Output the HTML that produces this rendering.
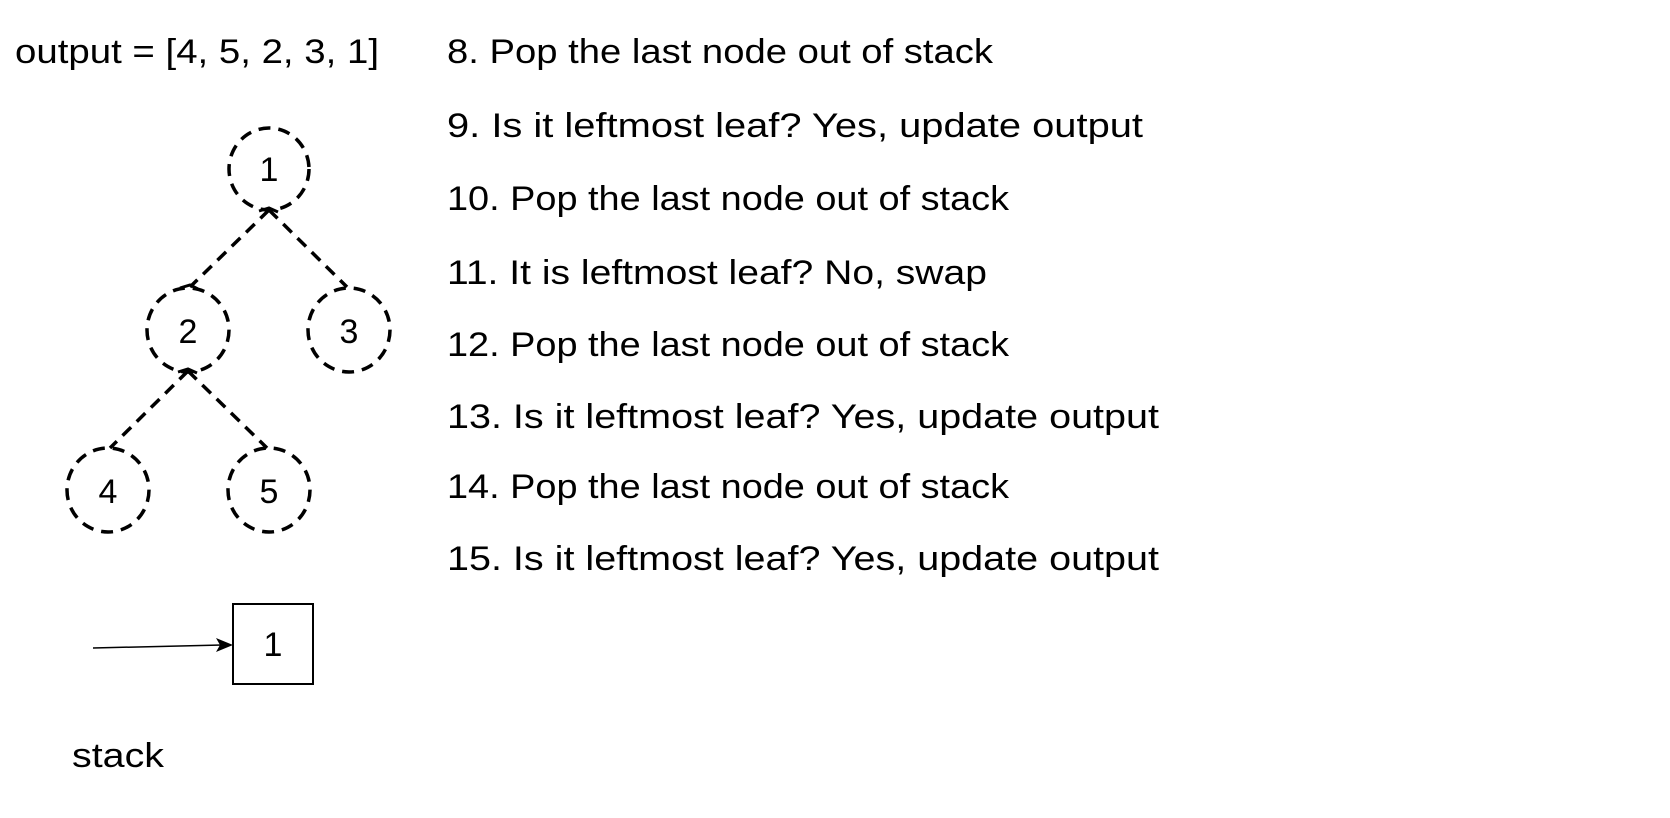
<!DOCTYPE html>
<html><head><meta charset="utf-8"><style>
html,body{margin:0;padding:0;background:#fff;}
svg{display:block;}
text{font-family:"Liberation Sans",sans-serif;font-size:34px;fill:#000;}
</style></head><body>
<svg width="1670" height="818" viewBox="0 0 1670 818">
<text x="15" y="63" textLength="364" lengthAdjust="spacingAndGlyphs">output = [4, 5, 2, 3, 1]</text>
<g fill="none" stroke="#000" stroke-width="3.5" stroke-dasharray="12,8">
<ellipse cx="269" cy="169" rx="40" ry="41"/>
<ellipse cx="188" cy="330" rx="41" ry="42"/>
<ellipse cx="349" cy="330" rx="41" ry="42"/>
<ellipse cx="108" cy="490" rx="41" ry="42"/>
<ellipse cx="269" cy="490" rx="41" ry="42"/>
<line x1="269" y1="210" x2="190" y2="287"/>
<line x1="269" y1="210" x2="347" y2="287"/>
<line x1="188" y1="371" x2="110" y2="448"/>
<line x1="188" y1="371" x2="267" y2="448"/>
</g>
<g fill="none" stroke="#000" stroke-width="3">
<path d="M180,288 L190,285 L198,289 M259,211 L269,208 L278,212 M178,372 L188,369 L197,373"/>
</g>
<g font-size="34">
<text x="269" y="181" text-anchor="middle">1</text>
<text x="188" y="343" text-anchor="middle">2</text>
<text x="349" y="343" text-anchor="middle">3</text>
<text x="108" y="503" text-anchor="middle">4</text>
<text x="269" y="503" text-anchor="middle">5</text>
</g>
<rect x="233" y="604" width="80" height="80" fill="none" stroke="#000" stroke-width="2"/>
<text x="273" y="656" text-anchor="middle">1</text>
<line x1="93" y1="648" x2="222" y2="645" stroke="#000" stroke-width="1.5"/>
<polygon points="233,645 216,638 220,645 216,652" fill="#000"/>
<text x="72" y="767" textLength="92" lengthAdjust="spacingAndGlyphs">stack</text>
<text x="447" y="63" textLength="546" lengthAdjust="spacingAndGlyphs">8. Pop the last node out of stack</text>
<text x="447" y="137" textLength="696" lengthAdjust="spacingAndGlyphs">9. Is it leftmost leaf? Yes, update output</text>
<text x="447" y="210" textLength="562" lengthAdjust="spacingAndGlyphs">10. Pop the last node out of stack</text>
<text x="447" y="284" textLength="540" lengthAdjust="spacingAndGlyphs">11. It is leftmost leaf? No, swap</text>
<text x="447" y="356" textLength="562" lengthAdjust="spacingAndGlyphs">12. Pop the last node out of stack</text>
<text x="447" y="428" textLength="712" lengthAdjust="spacingAndGlyphs">13. Is it leftmost leaf? Yes, update output</text>
<text x="447" y="498" textLength="562" lengthAdjust="spacingAndGlyphs">14. Pop the last node out of stack</text>
<text x="447" y="570" textLength="712" lengthAdjust="spacingAndGlyphs">15. Is it leftmost leaf? Yes, update output</text>
</svg>
</body></html>
